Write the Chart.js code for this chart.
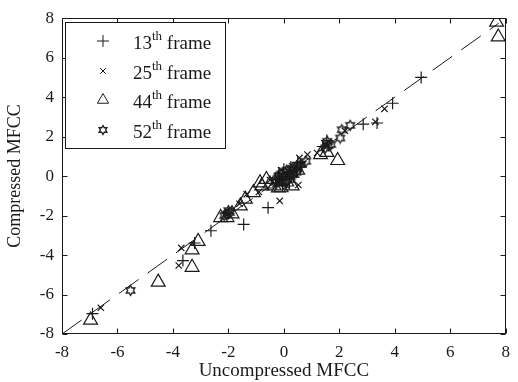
<!DOCTYPE html>
<html>
<head>
<meta charset="utf-8">
<script src="https://cdn.jsdelivr.net/npm/chart.js@4"></script>
<style>
  html, body { margin: 0; padding: 0; background: #fff; }
</style>
</head>
<body>
<canvas id="mfccChart" width="518" height="382"></canvas>
<script>
// values: [uncompressed, compressed]
const frame13 = [
  [4.95, 5.0], [3.92, 3.69], [3.36, 2.69], [2.86, 2.63], [1.55, 1.8], [1.4, 1.5],
  [0.6, 0.45], [0.5, 0.7], [0.3, 0.2], [0.1, 0.1], [0.0, 0.35], [-0.2, 0.0],
  [-0.1, -0.2], [-0.3, -0.1], [0.2, -0.3], [-0.05, -0.45], [0.25, 0.45],
  [0.45, 0.3], [-0.15, 0.15], [0.15, -0.1], [0.35, -0.05], [-0.57, -1.6],
  [-1.45, -2.45], [-2.63, -2.77], [-2.0, -1.9], [-3.22, -3.39], [-3.64, -4.28],
  [-6.9, -6.97]
];
const frame25 = [
  [3.63, 3.41], [3.3, 2.75], [2.2, 2.3], [1.5, 1.6], [1.2, 1.17], [0.85, 1.09],
  [0.56, 0.92], [0.7, 0.6], [0.3, 0.5], [0.4, 0.2], [0.2, 0.0], [-0.1, 0.3],
  [0.15, 0.25], [0.05, 0.15], [0.55, 0.35], [-0.2, -0.15],
  [0.0, -0.1], [-0.3, -0.4], [0.1, -0.5], [-0.5, -0.2], [0.52, -0.45],
  [-0.15, -1.26], [-1.34, -0.92], [-0.9, -0.8], [-1.6, -1.4], [-2.05, -1.9],
  [-3.7, -3.64], [-3.79, -4.53], [-6.6, -6.67]
];
const frame44 = [
  [7.67, 7.8], [7.73, 7.05], [1.94, 0.79], [1.32, 1.09], [1.55, 1.2],
  [0.5, 0.3], [0.3, -0.5], [0.1, -0.3], [-0.1, -0.59], [-0.2, -0.6], [-0.35, -0.5],
  [-0.5, -0.4], [-0.63, -0.17], [-0.86, -0.34], [-0.8, -0.5], [-1.1, -0.84],
  [-1.39, -1.17], [-1.57, -1.51], [-1.87, -1.91], [-2.05, -2.1], [-2.28, -2.1],
  [-3.09, -3.31], [-3.31, -3.74], [-3.31, -4.62], [-4.53, -5.37], [-6.97, -7.3]
];
const frame52 = [
  [2.39, 2.57], [2.09, 2.35], [2.03, 1.93], [1.7, 1.6], [1.6, 1.55], [1.56, 1.76],
  [1.5, 1.43], [0.8, 0.75], [0.6, 0.6], [0.5, 0.5], [0.45, 0.2], [0.3, 0.4],
  [0.35, 0.1], [0.25, -0.05], [0.2, 0.1], [0.1, 0.3], [0.0, 0.0], [-0.1, 0.1],
  [-0.2, -0.05], [0.1, -0.2], [-0.05, -0.3], [-0.3, -0.3], [-1.95, -1.85],
  [-2.0, -1.75], [-2.05, -1.93], [-2.15, -2.0], [-5.53, -5.79]
];
const refLine = [[-8, -8], [7.75, 7.75]];
const frameNumbers = ['13', '25', '44', '52'];
const tickValues = [-8, -6, -4, -2, 0, 2, 4, 6, 8];

const ink = '#1a1a1a';
const serif = "'Liberation Serif', 'Times New Roman', serif";

// six pointed star outline (matlab hexagram)
function makeHexagram(r) {
  const size = Math.ceil(r * 2 + 3);
  const c = document.createElement('canvas');
  c.width = size; c.height = size;
  const g = c.getContext('2d');
  g.strokeStyle = ink;
  g.lineWidth = 1.3;
  g.beginPath();
  for (let i = 0; i < 12; i++) {
    const rad = i % 2 === 0 ? r : r * 0.58;
    const a = -Math.PI / 2 + i * Math.PI / 6;
    const px = size / 2 + rad * Math.cos(a);
    const py = size / 2 + rad * Math.sin(a);
    i === 0 ? g.moveTo(px, py) : g.lineTo(px, py);
  }
  g.closePath();
  g.stroke();
  return c;
}
const hexagram = makeHexagram(5);
const hexagramSmall = makeHexagram(4.5);

const toPts = arr => arr.map(p => ({ x: p[0], y: p[1] }));

const markers = [
  { style: 'cross', radius: 6 },
  { style: 'crossRot', radius: 4.5 },
  { style: 'triangle', radius: 8 },
  { style: hexagram, radius: 5 }
];
const legendMarkers = [
  { style: 'cross', radius: 6 },
  { style: 'crossRot', radius: 4 },
  { style: 'triangle', radius: 6.5 },
  { style: hexagramSmall, radius: 4.5 }
];

const frameAndLegend = {
  id: 'frameAndLegend',
  afterDraw(chart) {
    const { ctx, chartArea: a, scales: { x, y } } = chart;
    ctx.save();
    ctx.strokeStyle = ink;
    ctx.lineWidth = 1;
    const L = Math.round(a.left) + 0.5, R = Math.round(a.right) - 0.5;
    const T = Math.round(a.top) + 0.5, B = Math.round(a.bottom) - 0.5;
    ctx.strokeRect(L, T, R - L, B - T);
    ctx.beginPath();
    tickValues.forEach(v => {
      const px = Math.round(x.getPixelForValue(v)) + 0.5;
      ctx.moveTo(px, B); ctx.lineTo(px, B - 5);
      ctx.moveTo(px, T); ctx.lineTo(px, T + 5);
      const py = Math.round(y.getPixelForValue(v)) + 0.5;
      ctx.moveTo(L, py); ctx.lineTo(L + 5, py);
      ctx.moveTo(R, py); ctx.lineTo(R - 5, py);
    });
    ctx.stroke();

    // legend box
    const bx = 65.5, by = 22.5, bw = 160, bh = 126;
    ctx.fillStyle = '#fff';
    ctx.fillRect(bx, by, bw, bh);
    ctx.strokeRect(bx, by, bw, bh);
    const rows = [43, 73, 102, 132];
    frameNumbers.forEach((num, i) => {
      const m = legendMarkers[i];
      const cy = rows[i];
      ctx.fillStyle = 'rgba(0,0,0,0)';
      ctx.strokeStyle = ink;
      Chart.helpers.drawPoint(ctx, {
        pointStyle: m.style, radius: m.radius, rotation: 0, borderWidth: 1.2
      }, 103, cy - 2);
      ctx.fillStyle = ink;
      ctx.textBaseline = 'middle';
      ctx.font = '19px ' + serif;
      let tx = 133;
      ctx.fillText(num, tx, cy + 1);
      tx += ctx.measureText(num).width;
      ctx.font = '13px ' + serif;
      ctx.fillText('th', tx, cy - 6);
      tx += ctx.measureText('th').width;
      ctx.font = '19px ' + serif;
      ctx.fillText(' frame', tx, cy + 1);
    });
    ctx.restore();
  }
};

const scatterSet = (label, arr, m) => ({
  type: 'scatter',
  label,
  data: toPts(arr),
  pointStyle: m.style,
  pointRadius: m.radius,
  pointHoverRadius: m.radius,
  pointBorderColor: ink,
  pointBackgroundColor: 'rgba(0,0,0,0)',
  pointBorderWidth: 1.2,
  showLine: false
});

new Chart(document.getElementById('mfccChart'), {
  type: 'scatter',
  data: {
    datasets: [
      {
        type: 'line',
        data: toPts(refLine),
        borderColor: ink,
        borderWidth: 1,
        borderDash: [24, 11],
        pointRadius: 0,
        fill: false
      },
      scatterSet('13th frame', frame13, markers[0]),
      scatterSet('25th frame', frame25, markers[1]),
      scatterSet('44th frame', frame44, markers[2]),
      scatterSet('52th frame', frame52, markers[3])
    ]
  },
  options: {
    responsive: false,
    animation: false,
    layout: { padding: { top: 16, right: 6, left: 0, bottom: 0 } },
    plugins: { legend: { display: false }, tooltip: { enabled: false } },
    scales: {
      x: {
        type: 'linear', min: -8, max: 8,
        grid: { display: false, drawTicks: false },
        border: { display: false },
        ticks: { stepSize: 2, color: ink, padding: 8, font: { family: serif, size: 17 } },
        title: { display: true, text: 'Uncompressed MFCC', color: ink, padding: 0, font: { family: serif, size: 19 } },
        afterFit(s) { s.height = 48; }
      },
      y: {
        type: 'linear', min: -8, max: 8,
        grid: { display: false, drawTicks: false },
        border: { display: false },
        ticks: { stepSize: 2, color: ink, padding: 8, font: { family: serif, size: 17 } },
        title: { display: true, text: 'Compressed MFCC', color: ink, padding: 4, font: { family: serif, size: 18 } },
        afterFit(s) { s.width = 62; }
      }
    }
  },
  plugins: [frameAndLegend]
});
</script>
</body>
</html>
